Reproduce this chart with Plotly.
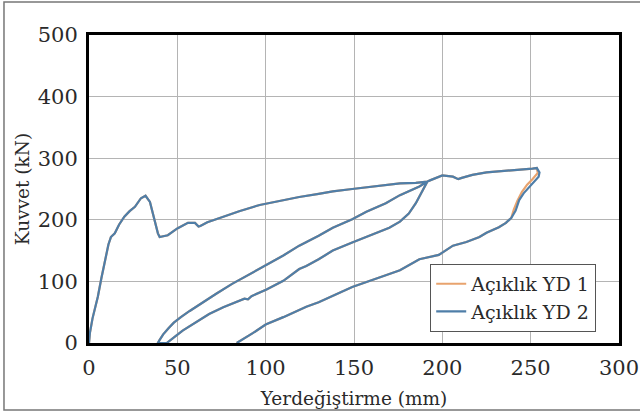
import plotly.graph_objects as go

# Load history: initial loading envelope up to the first reversal
env1_x = [0, 0.5, 2, 5, 7, 9, 11, 12.4, 14.6, 17, 20, 23, 26, 29.4, 32, 34.5, 37, 39, 40, 42,
          44.6, 50, 56, 60, 62, 63, 67, 74, 85, 96.6, 108, 119, 130, 138, 149, 157, 168, 176,
          185, 191.5]
env1_y = [0, 16, 40, 75, 105, 130, 160, 172, 178, 192, 205, 214, 221, 235, 239, 229, 200, 178,
          172, 173, 175, 186, 195, 195, 189, 190, 196, 203, 214, 224, 231, 237, 242, 246, 250,
          253, 257, 259, 260, 262]

# First unloading branch
unl1_x = [187, 183, 176, 168, 157, 149, 138, 130, 119, 110, 100, 90, 81, 72, 63, 57, 52, 48,
          45, 42, 40, 39]
unl1_y = [254, 249, 240, 227, 213, 201, 187, 174, 158, 142, 126, 111, 96, 80, 64, 52, 42, 33,
          24, 14, 5, 0]

# Reloading branch back to the envelope
rel1_x = [44, 46, 49, 53, 60, 68, 76, 83.6, 88, 90, 92, 100.5, 110, 119, 123, 130, 138, 149,
          157, 164, 170, 176, 181, 185, 188, 191.5]
rel1_y = [0, 5, 11, 20, 32, 47, 58, 67, 72, 71, 76, 87, 101, 120, 125, 136, 150, 163, 172,
          180, 187, 197, 210, 227, 243, 262]

# Continued loading to the peak
env2_x = [193, 200, 206, 209, 211, 217, 225, 235, 243.5, 251, 253.5]
env2_y = [264, 272, 270, 266, 268, 273, 277, 279, 281, 283, 284]

# Final unloading, YD 1
unl2a_x = [254, 251, 248, 245, 242.5, 240.5, 239, 236, 232, 225, 221, 213.6, 206, 198, 187,
           176, 168, 149, 130, 123, 110, 100, 92.7, 88, 83.6]
unl2a_y = [276, 266, 257, 245, 231, 217, 203, 195, 188, 179, 172, 164, 158, 143, 136, 118,
           110, 91, 66, 59, 42, 30, 16, 8, 0]

# Final unloading, YD 2
unl2b_x = [255, 254.5, 252, 249, 246, 243.5, 241.5, 239, 236, 232, 225, 221, 213.6, 206, 198,
           187, 176, 168, 149, 130, 123, 110, 100, 92.7, 88, 83.6]
unl2b_y = [277, 270, 262, 254, 243, 232, 215, 203, 195, 188, 179, 172, 164, 158, 143, 136,
           118, 110, 91, 66, 59, 42, 30, 16, 8, 0]

yd1_x = env1_x + unl1_x + rel1_x + env2_x + unl2a_x
yd1_y = env1_y + unl1_y + rel1_y + env2_y + unl2a_y
yd2_x = env1_x + unl1_x + rel1_x + env2_x + unl2b_x
yd2_y = env1_y + unl1_y + rel1_y + env2_y + unl2b_y

FONT = "DejaVu Serif"
TICK_FONT = dict(family=FONT, size=21, color="#2a2a2a")
TITLE_FONT = dict(family=FONT, size=18.5, color="#2a2a2a")
LEGEND_FONT = dict(family=FONT, size=19, color="#2a2a2a")

fig = go.Figure()
fig.add_trace(go.Scatter(x=yd1_x, y=yd1_y, mode="lines", name="Açıklık YD 1",
                         line=dict(color="#E8A36E", width=2.2)))
fig.add_trace(go.Scatter(x=yd2_x, y=yd2_y, mode="lines", name="Açıklık YD 2",
                         line=dict(color="#4F7EA8", width=2.2)))

axis_common = dict(
    showgrid=True, gridcolor="#b4b4b4", gridwidth=1,
    showline=True, linecolor="black", linewidth=3, mirror=True,
    zeroline=False, ticks="", automargin=False,
    tickfont=TICK_FONT,
)

fig.update_xaxes(range=[0, 300], dtick=50, ticklabelstandoff=4,
                 title=dict(text="Yerdeğiştirme (mm)", standoff=13, font=TITLE_FONT),
                 **axis_common)
fig.update_yaxes(range=[0, 500], dtick=100, ticklabelstandoff=4,
                 title=dict(text="Kuvvet (kN)", standoff=4, font=TITLE_FONT),
                 **axis_common)

fig.update_layout(
    width=640, height=412,
    font=TITLE_FONT,
    margin=dict(l=89, r=21, t=35, b=69),
    paper_bgcolor="white", plot_bgcolor="white",
    showlegend=True,
    legend=dict(x=0.957, y=0.036, xanchor="right", yanchor="bottom",
                bgcolor="white", bordercolor="#555555", borderwidth=1,
                font=LEGEND_FONT, tracegroupgap=0, itemwidth=30),
    shapes=[dict(type="rect", xref="paper", yref="paper",
                 x0=-0.1604, x1=1.1, y0=-0.2175, y1=1.107,
                 line=dict(color="#777777", width=1.5), layer="below")],
)

fig.write_html("out.html")
